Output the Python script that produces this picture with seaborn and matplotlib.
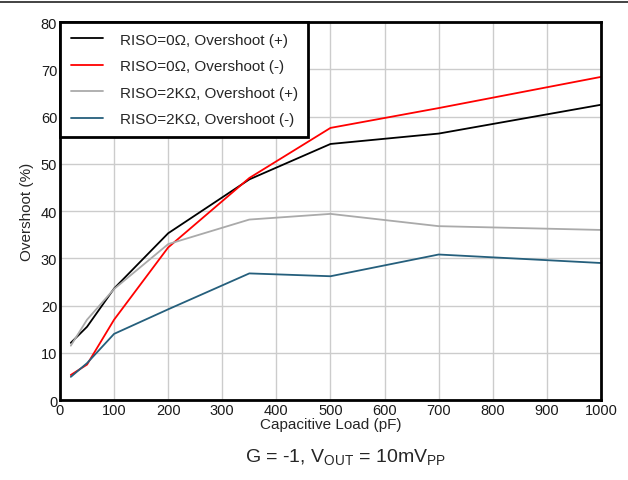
import pandas as pd
import matplotlib.pyplot as plt
import seaborn as sns
from matplotlib.lines import Line2D

# capacitive load (pF)
cap_load = [20, 50, 100, 200, 350, 500, 700, 1000]

# overshoot (%)
riso0_pos = [12.1, 15.5, 23.6, 35.3, 46.7, 54.2, 56.4, 62.5]
riso0_neg = [5.3, 7.5, 17.0, 32.3, 47.0, 57.6, 61.8, 68.4]
riso2k_pos = [11.5, 17.0, 23.5, 33.0, 38.2, 39.4, 36.8, 36.0]
riso2k_neg = [4.9, 7.8, 14.0, 19.2, 26.8, 26.2, 30.8, 29.0]

labels = ["RISO=0Ω, Overshoot (+)", "RISO=0Ω, Overshoot (-)",
          "RISO=2KΩ, Overshoot (+)", "RISO=2KΩ, Overshoot (-)"]
colors = ["#000000", "#ff0000", "#aaaaaa", "#255f7c"]

frames = []
for lab, vals in zip(labels, [riso0_pos, riso0_neg, riso2k_pos, riso2k_neg]):
    frames.append(pd.DataFrame({"load": cap_load, "overshoot": vals, "series": lab}))
df = pd.concat(frames, ignore_index=True)

sns.set_style("white")
plt.rcParams["font.family"] = ["Liberation Sans", "DejaVu Sans"]

fig = plt.figure(figsize=(6.28, 4.81), dpi=100)
ax = fig.add_axes([0.0955, 0.1663, 0.8615, 0.7857])

sns.lineplot(data=df, x="load", y="overshoot", hue="series", hue_order=labels,
             palette=colors, linewidth=1.3, ax=ax, sort=False)

ax.set_xlim(0, 1000)
ax.set_ylim(0, 80)
ax.set_xticks(range(0, 1001, 100))
ax.set_yticks(range(0, 81, 10))
ax.grid(True, color="#cccccc", linewidth=1)
ax.set_axisbelow(True)
ax.tick_params(length=0, labelsize=10.5, pad=2, colors="#1a1a1a")
for s in ax.spines.values():
    s.set_color("black")
    s.set_linewidth(2)

ax.set_xlabel("Capacitive Load (pF)", fontsize=11, labelpad=0.5)
ax.set_ylabel("Overshoot (%)", fontsize=11, labelpad=5)

leg = ax.legend(loc="upper left", borderaxespad=0, fontsize=11,
                fancybox=False, framealpha=1, edgecolor="black",
                handlelength=2.1, handletextpad=1.1, labelspacing=0.82,
                borderpad=0.7)
leg.get_frame().set_linewidth(2)
for h in leg.get_lines():
    h.set_linewidth(1.3)

fig.text(0.55, 0.028, r"G = -1, V$_{\mathregular{OUT}}$ = 10mV$_{\mathregular{PP}}$",
         ha="center", va="bottom", fontsize=14)

fig.add_artist(Line2D([0, 1], [1 - 2.5 / 481] * 2, color="#222222", linewidth=1.2,
                      transform=fig.transFigure))

fig.savefig("out.png", dpi=100)
